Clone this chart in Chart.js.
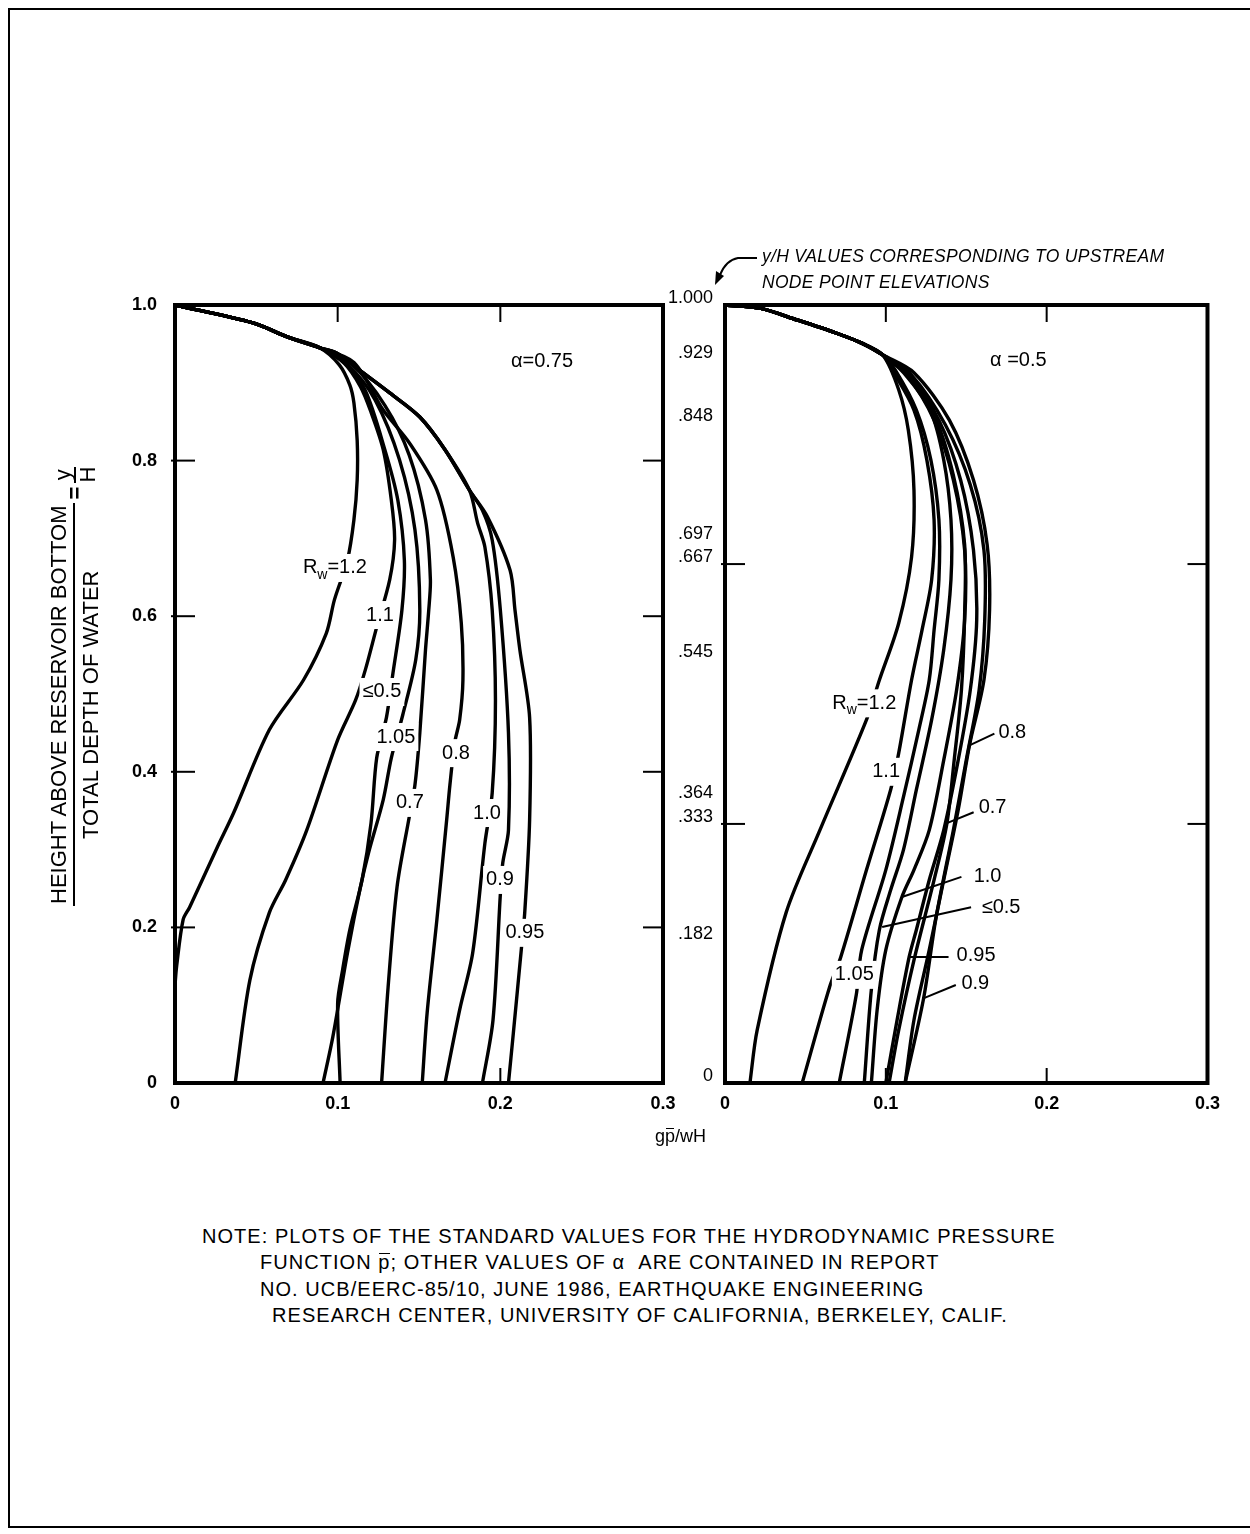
<!DOCTYPE html>
<html>
<head>
<meta charset="utf-8">
<script src="https://cdn.jsdelivr.net/npm/chart.js@4.4.1/dist/chart.umd.min.js"></script>
<style>
  body { margin: 0; background: #fff; width: 1250px; height: 1534px; position: relative; overflow: hidden;
         font-family: "Liberation Sans", Arial, sans-serif; color: #000; }
  .frame { position: absolute; left: 8px; top: 8px; width: 1260px; height: 1516px;
           border-left: 2px solid #000; border-top: 2px solid #000; border-bottom: 2px solid #000; }
  canvas { position: absolute; top: 250px; }
  #left { left: 0; }
  #right { left: 620px; }
  #ylab { position: absolute; left: -160px; top: 643px; width: 470px; height: 56px;
          transform: rotate(-90deg); display: flex; align-items: center; font-size: 22px; }
  #ylab .big { text-align: center; }
  #ylab .big .num { border-bottom: 2px solid #000; padding: 0 2px 1px; white-space: nowrap; }
  #ylab .big .den { padding-top: 3px; white-space: nowrap; }
  #ylab .eq { margin: 0 4px; font-weight: bold; }
  #ylab .small { text-align: center; font-size: 22px; line-height: 23px; }
  #ylab .small .num { border-bottom: 2px solid #000; padding: 0 2px; }
  .note { position: absolute; font-size: 20px; letter-spacing: 1.05px; white-space: nowrap; }
  .topnote { position: absolute; font-size: 17.5px; font-style: italic; white-space: nowrap; letter-spacing: 0.3px; }
  #xtitle { position: absolute; left: 655px; top: 1126px; font-size: 18px; }
  .ov { position: relative; display: inline-block; }
  .ov::after { content: ""; position: absolute; left: 1px; right: 1px; top: 0.12em; border-top: 1.5px solid #000; }
</style>
</head>
<body>
<div class="frame"></div>
<canvas id="left" width="700" height="900"></canvas>
<canvas id="right" width="610" height="900"></canvas>

<div id="ylab">
  <div class="big"><div class="num">HEIGHT ABOVE RESERVOIR BOTTOM</div><div class="den">TOTAL DEPTH OF WATER</div></div>
  <span class="eq">=</span>
  <div class="small"><div class="num">y</div><div class="den">H</div></div>
</div>

<div class="topnote" style="left:762px; top:246px;">y/H VALUES CORRESPONDING TO UPSTREAM</div>
<div class="topnote" style="left:762px; top:272px;">NODE POINT ELEVATIONS</div>
<svg style="position:absolute; left:700px; top:245px;" width="70" height="50">
  <path d="M57 13 L38 13 Q26 15 20 30" fill="none" stroke="#000" stroke-width="2"/>
  <path d="M15 40 L16 26 L24 31 Z" fill="#000"/>
</svg>

<div id="xtitle">g<span class="ov">p</span>/wH</div>

<div class="note" style="left:202px; top:1225px;">NOTE: PLOTS OF THE STANDARD VALUES FOR THE HYDRODYNAMIC PRESSURE</div>
<div class="note" style="left:260px; top:1251px;">FUNCTION <span class="ov">p</span>; OTHER VALUES OF &alpha; &nbsp;ARE CONTAINED IN REPORT</div>
<div class="note" style="left:260px; top:1278px;">NO. UCB/EERC-85/10, JUNE 1986, EARTHQUAKE ENGINEERING</div>
<div class="note" style="left:272px; top:1304px;">RESEARCH CENTER, UNIVERSITY OF CALIFORNIA, BERKELEY, CALIF.</div>

<script>
// curve names (R_w values)
const rwNames = ['1.2', '1.1', '≤0.5', '1.05', '0.7', '0.8', '1.0', '0.9', '0.95'];

// alpha = 0.75, points are [gp/wH, y/H]
const a75_12 = [[0,1],[0.048,0.977],[0.069,0.959],[0.089,0.945],[0.101,0.923],[0.1075,0.897],[0.110,0.874],[0.112,0.826],[0.112,0.775],[0.110,0.724],[0.106,0.672],[0.098,0.621],[0.093,0.578],[0.079,0.518],[0.058,0.454],[0.036,0.347],[0.026,0.303],[0.009,0.226],[0.005,0.210],[0.001,0.150],[0,0.126]];
const a75_11 = [[0,1],[0.048,0.977],[0.069,0.959],[0.089,0.945],[0.104,0.925],[0.114,0.895],[0.120,0.865],[0.128,0.814],[0.133,0.749],[0.135,0.698],[0.132,0.647],[0.124,0.586],[0.117,0.531],[0.111,0.492],[0.100,0.441],[0.081,0.325],[0.068,0.261],[0.058,0.219],[0.046,0.132],[0.037,0]];
const a75_05 = [[0,1],[0.048,0.977],[0.069,0.959],[0.089,0.945],[0.105,0.924],[0.117,0.890],[0.129,0.814],[0.137,0.749],[0.141,0.672],[0.1395,0.608],[0.134,0.527],[0.130,0.470],[0.124,0.418],[0.1205,0.334],[0.115,0.261],[0.1075,0.197],[0.103,0.145],[0.100,0.103],[0.1015,0]];
const a75_105 = [[0,1],[0.048,0.977],[0.069,0.959],[0.089,0.945],[0.106,0.924],[0.123,0.878],[0.138,0.801],[0.1475,0.711],[0.1505,0.608],[0.148,0.544],[0.140,0.473],[0.133,0.418],[0.128,0.364],[0.119,0.296],[0.114,0.252],[0.106,0.167],[0.097,0.059],[0.091,0]];
const a75_07 = [[0,1],[0.048,0.977],[0.069,0.959],[0.089,0.945],[0.108,0.925],[0.129,0.871],[0.144,0.807],[0.154,0.724],[0.157,0.647],[0.156,0.608],[0.154,0.557],[0.1505,0.450],[0.1475,0.383],[0.144,0.342],[0.1365,0.252],[0.131,0.123],[0.127,0]];
const a75_08 = [[0,1],[0.048,0.977],[0.069,0.959],[0.089,0.945],[0.110,0.926],[0.128,0.865],[0.144,0.823],[0.161,0.762],[0.171,0.676],[0.176,0.591],[0.177,0.518],[0.175,0.467],[0.172,0.438],[0.169,0.383],[0.167,0.338],[0.161,0.210],[0.155,0.090],[0.152,0]];
const a75_10 = [[0,1],[0.048,0.977],[0.069,0.959],[0.089,0.945],[0.0995,0.938],[0.1155,0.913],[0.132,0.887],[0.1505,0.856],[0.166,0.814],[0.181,0.762],[0.186,0.720],[0.1905,0.689],[0.195,0.608],[0.197,0.492],[0.195,0.373],[0.1905,0.308],[0.183,0.167],[0.175,0.094],[0.166,0]];
const a75_09 = [[0,1],[0.048,0.977],[0.069,0.959],[0.089,0.945],[0.0995,0.938],[0.1155,0.913],[0.132,0.887],[0.1505,0.856],[0.166,0.814],[0.181,0.762],[0.189,0.736],[0.195,0.698],[0.200,0.608],[0.205,0.450],[0.205,0.325],[0.2015,0.283],[0.200,0.242],[0.1955,0.081],[0.189,0]];
const a75_095 = [[0,1],[0.048,0.977],[0.069,0.959],[0.089,0.945],[0.0995,0.938],[0.1155,0.913],[0.132,0.887],[0.1505,0.856],[0.166,0.814],[0.181,0.762],[0.192,0.728],[0.206,0.659],[0.209,0.608],[0.212,0.557],[0.218,0.470],[0.218,0.338],[0.215,0.219],[0.213,0.174],[0.208,0.064],[0.205,0]];

// alpha = 0.5
const a50_12 = [[0,1],[0.0216,0.996],[0.0445,0.981],[0.069,0.964],[0.085,0.951],[0.098,0.936],[0.108,0.891],[0.114,0.839],[0.1175,0.762],[0.116,0.676],[0.108,0.591],[0.096,0.518],[0.088,0.467],[0.059,0.325],[0.038,0.219],[0.020,0.068],[0.0155,0]];
const a50_11 = [[0,1],[0.0216,0.996],[0.0445,0.981],[0.069,0.964],[0.085,0.951],[0.098,0.936],[0.105,0.913],[0.1175,0.865],[0.1255,0.801],[0.130,0.724],[0.1285,0.647],[0.1225,0.582],[0.116,0.518],[0.108,0.424],[0.103,0.377],[0.088,0.274],[0.072,0.162],[0.065,0.123],[0.048,0]];
const a50_05 = [[0,1],[0.0216,0.996],[0.0445,0.981],[0.069,0.964],[0.085,0.951],[0.098,0.936],[0.111,0.913],[0.1275,0.865],[0.136,0.801],[0.1405,0.724],[0.1405,0.647],[0.136,0.557],[0.1285,0.467],[0.119,0.377],[0.111,0.300],[0.103,0.248],[0.096,0.197],[0.091,0.120],[0.0866,0]];
const a50_105 = [[0,1],[0.0216,0.996],[0.0445,0.981],[0.069,0.964],[0.085,0.951],[0.098,0.936],[0.106,0.916],[0.119,0.865],[0.128,0.801],[0.133,0.724],[0.133,0.647],[0.130,0.582],[0.127,0.518],[0.1205,0.454],[0.111,0.368],[0.100,0.274],[0.085,0.171],[0.0816,0.113],[0.071,0]];
const a50_07 = [[0,1],[0.0216,0.996],[0.0445,0.981],[0.069,0.964],[0.085,0.951],[0.098,0.936],[0.112,0.913],[0.130,0.858],[0.142,0.781],[0.149,0.692],[0.149,0.602],[0.147,0.505],[0.1425,0.415],[0.138,0.334],[0.130,0.261],[0.1175,0.158],[0.108,0.068],[0.102,0]];
const a50_08 = [[0,1],[0.0216,0.996],[0.0445,0.981],[0.069,0.964],[0.085,0.951],[0.098,0.936],[0.1175,0.913],[0.1395,0.852],[0.1545,0.775],[0.163,0.692],[0.1645,0.608],[0.161,0.518],[0.152,0.434],[0.145,0.351],[0.136,0.261],[0.127,0.171],[0.1175,0.081],[0.112,0]];
const a50_10 = [[0,1],[0.0216,0.996],[0.0445,0.981],[0.069,0.964],[0.085,0.951],[0.098,0.936],[0.113,0.910],[0.130,0.852],[0.142,0.775],[0.149,0.685],[0.149,0.595],[0.144,0.505],[0.136,0.415],[0.127,0.325],[0.1175,0.274],[0.110,0.239],[0.100,0.171],[0.0946,0.094],[0.091,0]];
const a50_09 = [[0,1],[0.0216,0.996],[0.0445,0.981],[0.069,0.964],[0.085,0.951],[0.098,0.936],[0.116,0.910],[0.137,0.846],[0.1525,0.769],[0.161,0.685],[0.1615,0.595],[0.158,0.505],[0.150,0.415],[0.142,0.325],[0.137,0.274],[0.131,0.210],[0.1235,0.109],[0.112,0]];
const a50_095 = [[0,1],[0.0216,0.996],[0.0445,0.981],[0.069,0.964],[0.085,0.951],[0.098,0.936],[0.1145,0.910],[0.133,0.852],[0.1465,0.775],[0.1545,0.685],[0.1565,0.595],[0.1525,0.505],[0.145,0.415],[0.136,0.325],[0.127,0.261],[0.119,0.197],[0.1145,0.162],[0.107,0.081],[0.100,0]];

// tick values / labels
const xTicks = [0, 0.1, 0.2, 0.3];
const leftYTicks = [0, 0.2, 0.4, 0.6, 0.8, 1.0];
const rightYTicks = [0, 0.182, 0.333, 0.364, 0.545, 0.667, 0.697, 0.848, 0.929, 1.0];
const rightYLabels = ['0', '.182', '.333', '.364', '.545', '.667', '.697', '.848', '.929', '1.000'];

const leftCurves = [a75_12, a75_11, a75_05, a75_105, a75_07, a75_08, a75_10, a75_09, a75_095];
const rightCurves = [a50_12, a50_11, a50_05, a50_105, a50_07, a50_08, a50_10, a50_09, a50_095];

// curve labels: inline ones get a white box (break in the line), leader ones get a pointer line
const leftLabels = [
  { t: 'Rw=1.2', x: 0.0983, y: 0.662 },
  { t: '1.1', x: 0.126, y: 0.6015 },
  { t: '≤0.5', x: 0.1272, y: 0.5026 },
  { t: '1.05', x: 0.1358, y: 0.4447 },
  { t: '0.7', x: 0.1444, y: 0.360 },
  { t: '0.8', x: 0.1727, y: 0.424 },
  { t: '1.0', x: 0.1918, y: 0.347 },
  { t: '0.9', x: 0.1998, y: 0.261 },
  { t: '0.95', x: 0.2151, y: 0.193 },
  { t: 'α=0.75', x: 0.2256, y: 0.927, plain: true }
];
const rightLabels = [
  { t: 'Rw=1.2', x: 0.0866, y: 0.488 },
  { t: '1.1', x: 0.1002, y: 0.400 },
  { t: '1.05', x: 0.0804, y: 0.139 },
  { t: '0.8', x: 0.170, y: 0.451, from: [0.152, 0.434], to: [0.1675, 0.449] },
  { t: '0.7', x: 0.1577, y: 0.3535, from: [0.138, 0.334], to: [0.1546, 0.348] },
  { t: '1.0', x: 0.1546, y: 0.265, from: [0.110, 0.239], to: [0.147, 0.265] },
  { t: '≤0.5', x: 0.1596, y: 0.225, from: [0.0977, 0.2005], to: [0.153, 0.226] },
  { t: '0.95', x: 0.144, y: 0.1645, from: [0.1144, 0.162], to: [0.139, 0.162] },
  { t: '0.9', x: 0.147, y: 0.1285, from: [0.1237, 0.109], to: [0.1435, 0.126] },
  { t: 'α =0.5', x: 0.1824, y: 0.929, plain: true }
];

const FONT = '"Liberation Sans", Arial, sans-serif';

function drawLabel(ctx, l, px, py) {
  ctx.font = '20px ' + FONT;
  ctx.textBaseline = 'middle';
  let parts = [[l.t, 0, 20]];
  if (l.t.startsWith('Rw')) parts = [['R', 0, 20], ['w', 7, 14], [l.t.slice(2), 0, 20]];
  let w = 0;
  parts.forEach(p => { ctx.font = p[2] + 'px ' + FONT; w += ctx.measureText(p[0]).width; });
  let x0 = l.from ? px : px - w / 2;
  if (!l.from && !l.plain) {
    ctx.fillStyle = '#fff';
    ctx.fillRect(x0 - 3, py - 14, w + 6, 28);
  }
  ctx.fillStyle = '#000';
  ctx.textAlign = 'left';
  parts.forEach(p => {
    ctx.font = p[2] + 'px ' + FONT;
    ctx.fillText(p[0], x0, py + p[1]);
    x0 += ctx.measureText(p[0]).width;
  });
}

function makeDecor(cfg) {
  return {
    id: 'decor',
    afterDatasetsDraw(chart) {
      const { ctx, chartArea: a, scales: { x, y } } = chart;
      ctx.save();
      ctx.strokeStyle = '#000';
      ctx.lineCap = 'butt';
      const seg = (x1, y1, x2, y2, w) => { ctx.lineWidth = w; ctx.beginPath(); ctx.moveTo(x1, y1); ctx.lineTo(x2, y2); ctx.stroke(); };
      // inward tick marks
      cfg.sideTicks.forEach(v => {
        const py = y.getPixelForValue(v);
        seg(a.left - 4, py, a.left + 20, py, 2);
        seg(a.right - 20, py, a.right, py, 2);
      });
      cfg.topTicks.forEach(v => { const px = x.getPixelForValue(v); seg(px, a.top, px, a.top + 17, 2); });
      cfg.bottomTicks.forEach(v => { const px = x.getPixelForValue(v); seg(px, a.bottom, px, a.bottom - 15, 2); });
      // labels
      cfg.labels.forEach(l => {
        if (l.from) {
          seg(x.getPixelForValue(l.from[0]), y.getPixelForValue(l.from[1]),
              x.getPixelForValue(l.to[0]), y.getPixelForValue(l.to[1]), 2);
        }
        drawLabel(ctx, l, x.getPixelForValue(l.x), y.getPixelForValue(l.y));
      });
      // frame
      ctx.lineWidth = 4;
      ctx.strokeRect(a.left, a.top, a.right - a.left, a.bottom - a.top);
      ctx.restore();
    }
  };
}

function makeChart(id, curves, cfg) {
  return new Chart(document.getElementById(id), {
    type: 'scatter',
    data: {
      datasets: curves.map((c, i) => ({
        label: 'Rw=' + rwNames[i],
        data: c.map(p => ({ x: p[0], y: p[1] })),
        showLine: true,
        borderColor: '#000',
        borderWidth: 3.4,
        pointRadius: 0,
        tension: 0.3,
        fill: false
      }))
    },
    options: {
      responsive: false,
      animation: false,
      layout: { padding: { left: 0, right: cfg.padRight, top: 55, bottom: 0 } },
      plugins: { legend: { display: false }, tooltip: { enabled: false } },
      scales: {
        x: {
          type: 'linear', min: 0, max: 0.3,
          afterBuildTicks: s => { s.ticks = xTicks.map(v => ({ value: v })); },
          afterFit: s => { s.height = 67; },
          ticks: { color: '#000', font: { family: FONT, size: 18, weight: 'bold' }, padding: 10, maxRotation: 0, autoSkip: false,
                   callback: v => v === 0 ? '0' : v.toFixed(1) },
          grid: { display: false, drawTicks: false },
          border: { display: false }
        },
        y: {
          type: 'linear', min: 0, max: 1,
          afterBuildTicks: s => { s.ticks = cfg.yTicks.map(v => ({ value: v })); },
          afterFit: s => { s.width = cfg.yWidth; },
          ticks: { color: '#000', font: { family: FONT, size: 18, weight: cfg.yWeight }, padding: cfg.yPad, labelOffset: cfg.yOffset, autoSkip: false,
                   callback: cfg.yFormat },
          grid: { display: false, drawTicks: false },
          border: { display: false }
        }
      }
    },
    plugins: [makeDecor(cfg)]
  });
}

makeChart('left', leftCurves, {
  padRight: 37, yWidth: 175, yPad: 18, yOffset: 0, yWeight: 'bold',
  yTicks: leftYTicks, yFormat: v => v === 0 ? '0' : v.toFixed(1),
  sideTicks: [0.2, 0.4, 0.6, 0.8], topTicks: [0.1, 0.2], bottomTicks: [0.2],
  labels: leftLabels
});

makeChart('right', rightCurves, {
  padRight: 20, yWidth: 105, yPad: 12, yOffset: -7, yWeight: 'normal',
  yTicks: rightYTicks, yFormat: (v, i) => rightYLabels[i],
  sideTicks: [0.333, 0.667], topTicks: [0.1, 0.2], bottomTicks: [0.1, 0.2],
  labels: rightLabels
});
</script>
</body>
</html>
